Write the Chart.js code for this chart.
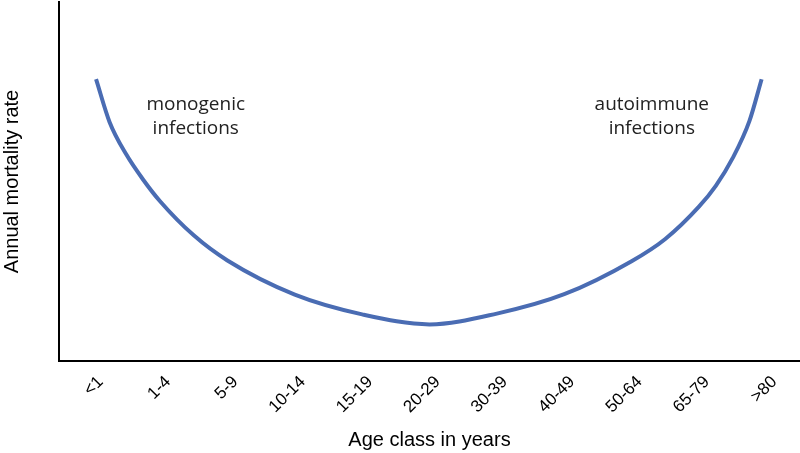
<!DOCTYPE html>
<html>
<head>
<meta charset="utf-8">
<script src="https://cdn.jsdelivr.net/npm/chart.js@4/dist/chart.umd.min.js"></script>
<style>
  html, body { margin: 0; padding: 0; background: #fff; }
  #wrap { width: 800px; height: 453px; }
</style>
</head>
<body>
<div id="wrap"><canvas id="u-chart"></canvas></div>
<script>
const ageClasses = ['<1', '1-4', '5-9', '10-14', '15-19', '20-29', '30-39', '40-49', '50-64', '65-79', '>80'];

// curve: position in age-class units (0 = '<1') and
// relative mortality (0-100, the axis has no ticks)
const curvePos = [0.05, 0.25, 0.5, 0.75, 1, 1.5, 2, 3, 4, 5, 6, 7, 8, 8.5, 9, 9.25, 9.5, 9.75, 9.93];
const curveVal = [78.5, 66.6, 57.5, 50.5, 44.5, 35.0, 28.0, 18.5, 13.0, 10.2, 13.2, 18.6, 27.8, 34.0, 43.0, 48.8, 56.5, 66.9, 78.5];

// annotation texts, placed in data units
const notes = [
  { lines: ['monogenic', 'infections'], x: 1.53, y: 71.3 },
  { lines: ['autoimmune', 'infections'], x: 8.30, y: 71.3 }
];

const lineColor = '#4A6CB3';
const axisFont = '"Liberation Sans", Arial, sans-serif';

const notesPlugin = {
  id: 'notes',
  afterDatasetsDraw(chart) {
    const ctx = chart.ctx;
    const xs = chart.scales.x;
    const ys = chart.scales.y;
    ctx.save();
    ctx.font = '19px "Open Sans", sans-serif';
    ctx.fillStyle = '#222';
    ctx.textAlign = 'center';
    ctx.textBaseline = 'middle';
    notes.forEach(n => {
      const px = xs.getPixelForValue(n.x);
      const py = ys.getPixelForValue(n.y);
      n.lines.forEach((t, i) => ctx.fillText(t, px, py + i * 24));
    });
    ctx.restore();
  }
};

new Chart(document.getElementById('u-chart'), {
  type: 'line',
  data: {
    datasets: [{
      data: curvePos.map((p, i) => ({ x: p, y: curveVal[i] })),
      borderColor: lineColor,
      borderWidth: 4,
      pointRadius: 0,
      fill: false,
      cubicInterpolationMode: 'monotone'
    }]
  },
  options: {
    responsive: true,
    maintainAspectRatio: false,
    animation: false,
    layout: { padding: { top: 2, right: 0 } },
    plugins: { legend: { display: false }, tooltip: { enabled: false } },
    scales: {
      x: {
        type: 'linear',
        min: -0.5,
        max: 10.5,
        grid: { display: false, drawTicks: false },
        border: { display: true, color: '#000', width: 2 },
        afterBuildTicks(s) { s.ticks = ageClasses.map((_, i) => ({ value: i })); },
        ticks: {
          color: '#000',
          font: { family: axisFont, size: 17 },
          minRotation: 45,
          maxRotation: 45,
          padding: 11,
          labelOffset: 8,
          autoSkip: false,
          callback: (v) => ageClasses[v]
        },
        title: {
          display: true,
          text: 'Age class in years',
          color: '#000',
          font: { family: axisFont, size: 20 },
          padding: { top: 0, bottom: 1 }
        },
        afterFit(s) { s.height = 92; }
      },
      y: {
        min: 0,
        max: 100,
        grid: { display: false, drawTicks: false },
        border: { display: true, color: '#000', width: 2 },
        ticks: { display: false },
        title: {
          display: true,
          text: 'Annual mortality rate',
          color: '#000',
          font: { family: axisFont, size: 20 },
          padding: { top: 0, bottom: 0 }
        },
        afterFit(s) { s.width = 59; }
      }
    }
  },
  plugins: [notesPlugin]
});
</script>
</body>
</html>
